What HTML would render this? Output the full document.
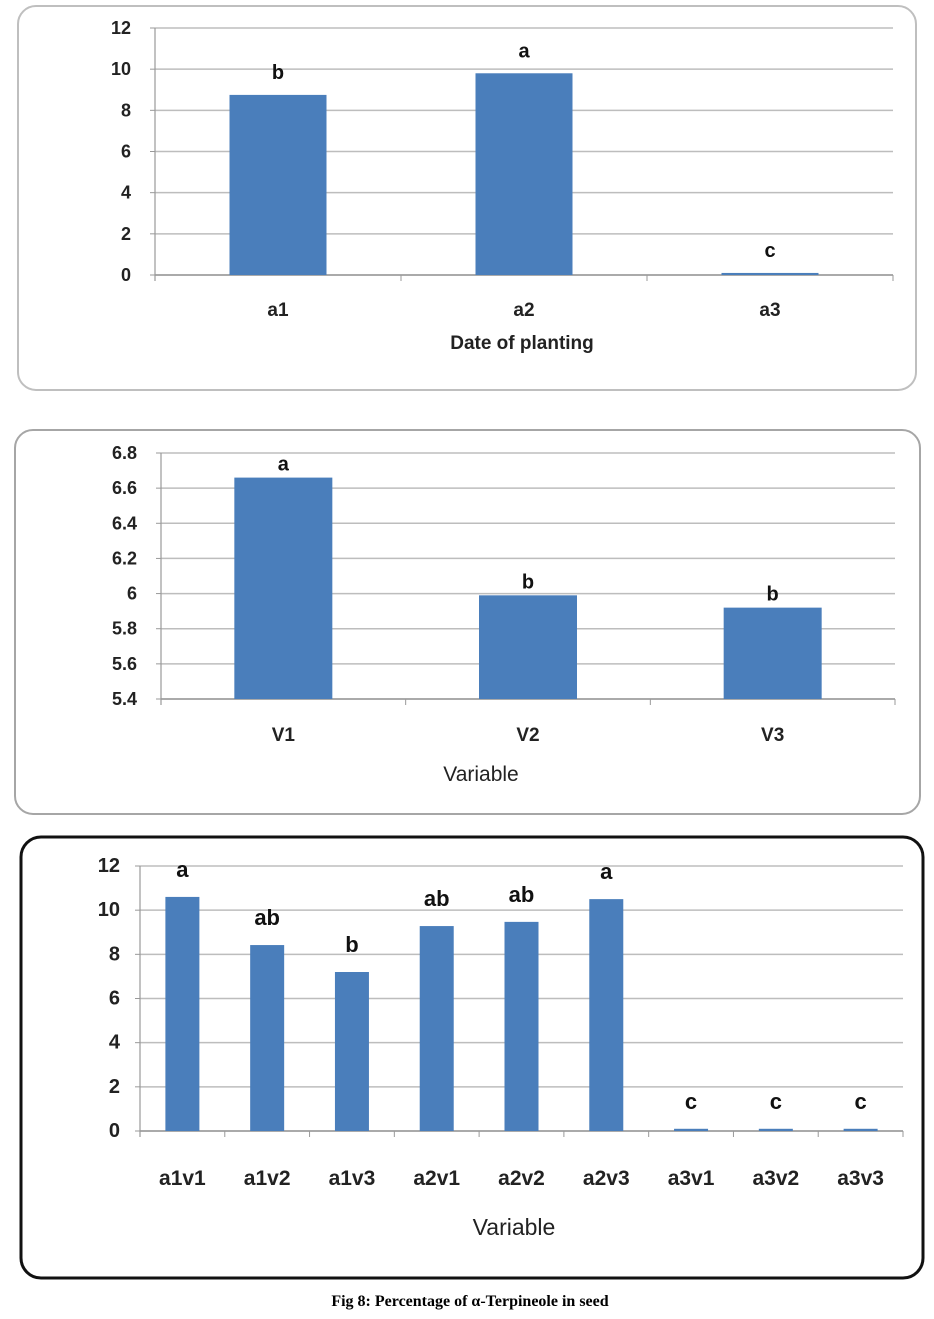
<!DOCTYPE html>
<html><head><meta charset="utf-8"><style>
body{margin:0;background:#fff;width:934px;height:1319px;overflow:hidden;font-family:"Liberation Sans",sans-serif}
svg{position:absolute;left:0;top:0}
</style></head><body>
<svg width="934" height="1319" id="fig">
<rect x="18" y="6" width="898" height="384" rx="18" fill="#fff" stroke="#bfbfbf" stroke-width="2"/>
<rect x="15" y="430" width="905" height="384" rx="18" fill="#fff" stroke="#a6a6a6" stroke-width="2"/>
<rect x="21" y="837" width="902" height="441" rx="20" fill="#fff" stroke="#111" stroke-width="3"/>
<text x="470" y="1306" text-anchor="middle" font-family="Liberation Serif,serif" font-weight="bold" font-size="16">Fig 8: Percentage of α-Terpineole in seed</text>
</svg>
<script>
const cats1=["a1","a2","a3"];
const vals1=[8.75,9.8,0.1];
const sig1=["b","a","c"];
const ticks1=[0,2,4,6,8,10,12];
const cats2=["V1","V2","V3"];
const vals2=[6.66,5.99,5.92];
const sig2=["a","b","b"];
const ticks2=[5.4,5.6,5.8,6,6.2,6.4,6.6,6.8];
const cats3=["a1v1","a1v2","a1v3","a2v1","a2v2","a2v3","a3v1","a3v2","a3v3"];
const vals3=[10.6,8.42,7.2,9.28,9.47,10.5,0.1,0.1,0.1];
const sig3=["a","ab","b","ab","ab","a","c","c","c"];
const ticks3=[0,2,4,6,8,10,12];
const svg=document.getElementById('fig');
const NS='http://www.w3.org/2000/svg';
function mk(tag,at,txt){const e=document.createElementNS(NS,tag);for(const k in at)e.setAttribute(k,at[k]);if(txt!==undefined)e.textContent=txt;svg.appendChild(e);return e;}
function chart(o){
  const y=v=>o.y0-(v-o.min)/(o.max-o.min)*(o.y0-o.y1);
  const bw=(o.x1-o.x0)/o.cats.length;
  o.ticks.forEach(t=>{
    const gl=mk('line',{x1:o.x0,x2:o.x1,y1:y(t),y2:y(t),stroke:'#bdbdbd','stroke-width':1.5});
    
    
    mk('line',{x1:o.x0-5,x2:o.x0,y1:y(t),y2:y(t),stroke:'#999'});
    const tl=mk('text',{x:o.x0-o.tickGap,y:y(t)+6,'text-anchor':'end','font-size':o.fs,'font-weight':'bold',fill:'#222'},String(t));
    
    
  });
  const ax=mk('line',{x1:o.x0,x2:o.x0,y1:o.y1,y2:o.y0+6,stroke:'#999','stroke-width':1.2});
  
  
  const xa=mk('line',{x1:o.x0,x2:o.x1,y1:o.y0,y2:o.y0,stroke:'#999','stroke-width':1.5});
  
  
  for(let i=0;i<=o.cats.length;i++)mk('line',{x1:o.x0+i*bw,x2:o.x0+i*bw,y1:o.y0,y2:o.y0+6,stroke:'#999'});
  o.cats.forEach((c,i)=>{
    const cx=o.x0+bw*(i+.5);const top=y(o.vals[i]);
    const b=mk('rect',{x:cx-o.bar/2,y:top,width:o.bar,height:o.y0-top,fill:'#4a7ebb'});
    
    
    const s=mk('text',{x:cx,y:top-o.sigGap,'text-anchor':'middle','font-size':o.fs+2,'font-weight':'bold',fill:'#111'},o.sig[i]);
    
    
    const l=mk('text',{x:cx,y:o.labY,'text-anchor':'middle','font-size':o.fs+1,'font-weight':'bold',fill:'#222'},c);
    
    
  });
  const t=mk('text',{x:o.tx,y:o.ty,'text-anchor':'middle','font-size':o.tfs,'font-weight':o.tw,fill:'#222'},o.title);
  
  
}
chart({p:'chart1',cats:cats1,vals:vals1,sig:sig1,ticks:ticks1,min:0,max:12,x0:155,x1:893,y0:275,y1:28,bar:97,fs:18,tickGap:24,sigGap:16,labY:316,title:'Date of planting',tx:522,ty:349,tfs:19,tw:'bold'});
chart({p:'chart2',cats:cats2,vals:vals2,sig:sig2,ticks:ticks2,min:5.4,max:6.8,x0:161,x1:895,y0:699,y1:453,bar:98,fs:18,tickGap:24,sigGap:7,labY:741,title:'Variable',tx:481,ty:781,tfs:21,tw:'normal'});
chart({p:'chart3',cats:cats3,vals:vals3,sig:sig3,ticks:ticks3,min:0,max:12,x0:140,x1:903,y0:1131,y1:866,bar:34,fs:20,tickGap:20,sigGap:20,labY:1185,title:'Variable',tx:514,ty:1235,tfs:23,tw:'normal'});
</script>
</body></html>
